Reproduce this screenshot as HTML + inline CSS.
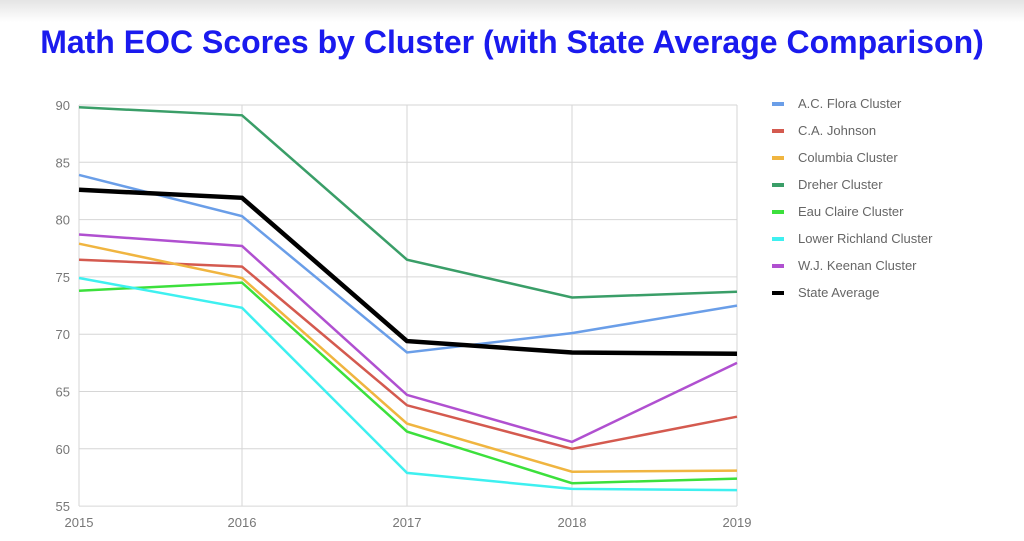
<!DOCTYPE html>
<html><head><meta charset="utf-8"><style>
body{margin:0;width:1024px;height:541px;overflow:hidden;background:#fff;font-family:"Liberation Sans",sans-serif}
.top{position:absolute;left:0;top:0;width:1024px;height:22px;background:linear-gradient(#e4e4e4,#fff)}
h1{position:absolute;left:0;width:1024px;top:24px;margin:0;text-align:center;font-size:32px;font-weight:bold;color:#1a1aee;font-family:"Liberation Sans",sans-serif}
</style></head><body>
<div class="top"></div>
<h1>Math EOC Scores by Cluster (with State Average Comparison)</h1>
<svg id="s" width="1024" height="541" style="position:absolute;left:0;top:0"></svg>
<script>
const s=document.getElementById('s');
const X=[79,242,407,572,737];
const Y=v=>105+(90-v)*11.46;
let h='';
for(let v=55;v<=90;v+=5){h+=`<line x1="79" x2="737" y1="${Y(v)}" y2="${Y(v)}" stroke="#d6d6d6"/>`;h+=`<text x="70" y="${Y(v)+5}" text-anchor="end" font-size="13" fill="#777">${v}</text>`;}
X.forEach((x,i)=>{h+=`<line x1="${x}" x2="${x}" y1="105" y2="506" stroke="#d6d6d6"/>`;h+=`<text x="${x}" y="527" text-anchor="middle" font-size="13" fill="#777">${2015+i}</text>`;});
const S=[
["A.C. Flora Cluster","#6a9ee8",[83.9,80.3,68.4,70.1,72.5],2.5],
["C.A. Johnson","#d45a4f",[76.5,75.9,63.8,60.0,62.8],2.5],
["Columbia Cluster","#f0b540",[77.9,74.9,62.2,58.0,58.1],2.5],
["Dreher Cluster","#3a9e68",[89.8,89.1,76.5,73.2,73.7],2.5],
["Eau Claire Cluster","#3ce03c",[73.8,74.5,61.5,57.0,57.4],2.5],
["Lower Richland Cluster","#3ef0f0",[74.9,72.3,57.9,56.5,56.4],2.5],
["W.J. Keenan Cluster","#b050d0",[78.7,77.7,64.7,60.6,67.5],2.5],
["State Average","#000",[82.6,81.9,69.4,68.4,68.3],4.5]];
S.forEach((d,i)=>{h+=`<polyline fill="none" stroke="${d[1]}" stroke-width="${d[3]}" points="${d[2].map((v,j)=>X[j]+','+Y(v).toFixed(1)).join(' ')}"/>`;
const ly=104+i*27;h+=`<rect x="772" y="${ly-2}" width="12" height="4" fill="${d[1]}"/><text x="798" y="${ly+4}" font-size="13" fill="#666">${d[0]}</text>`;});
s.innerHTML=h;
</script>
</body></html>
